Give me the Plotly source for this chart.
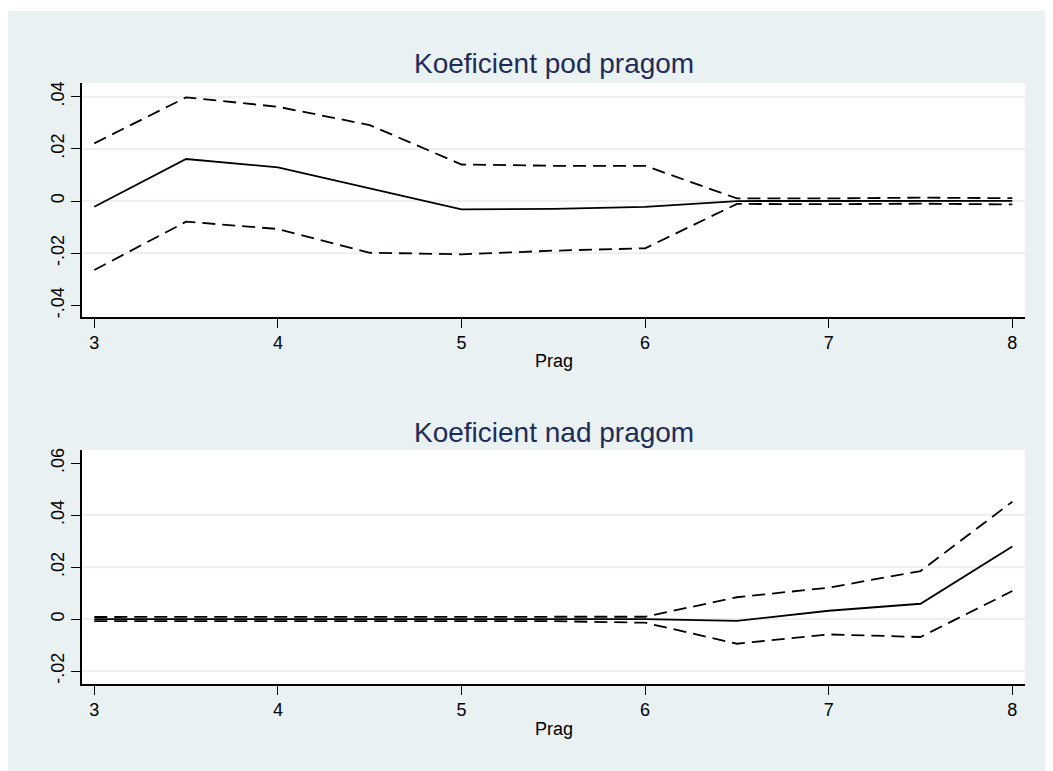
import plotly.graph_objects as go

# ---- data ----
prag = [3, 3.5, 4, 4.5, 5, 5.5, 6, 6.5, 7, 7.5, 8]

pod_coef  = [-0.0022, 0.0161, 0.0129, 0.0049, -0.0032, -0.0030, -0.0022, 0.0000, 0.0000, 0.0000, 0.0001]
pod_upper = [0.0221, 0.0397, 0.0361, 0.0291, 0.0140, 0.0135, 0.0135, 0.0010, 0.0010, 0.0013, 0.0011]
pod_lower = [-0.0264, -0.0079, -0.0107, -0.0198, -0.0204, -0.0190, -0.0181, -0.0011, -0.0012, -0.0010, -0.0013]

nad_coef  = [0.0000, 0.0000, 0.0000, 0.0000, 0.0000, 0.0000, 0.0000, -0.0007, 0.0032, 0.0059, 0.0279]
nad_upper = [0.0008, 0.0008, 0.0008, 0.0008, 0.0008, 0.0008, 0.0009, 0.0084, 0.0121, 0.0185, 0.0452]
nad_lower = [-0.0008, -0.0008, -0.0008, -0.0008, -0.0008, -0.0008, -0.0014, -0.0095, -0.0059, -0.0069, 0.0108]

x_ticks = [3, 4, 5, 6, 7, 8]
top_yticks = [-0.04, -0.02, 0, 0.02, 0.04]
top_ytext = ["-.04", "-.02", "0", ".02", ".04"]
top_grid = [-0.02, 0, 0.02, 0.04]
bot_yticks = [-0.02, 0, 0.02, 0.04, 0.06]
bot_ytext = ["-.02", "0", ".02", ".04", ".06"]
bot_grid = [-0.02, 0, 0.02, 0.04]

titles = ["Koeficient pod pragom", "Koeficient nad pragom"]
xlabel = "Prag"

# ---- styling ----
BG = "#EAF1F3"
GRID = "#EAF1F3"
TITLE_COL = "#1f2c58"
FONT = "Liberation Sans, Arial, sans-serif"
DASH = "13px,7px"
LW = 1.8

fig = go.Figure()

def add_panel(ycoef, yup, ylo, xa, ya):
    fig.add_trace(go.Scatter(x=prag, y=yup, mode="lines", xaxis=xa, yaxis=ya,
                             line=dict(color="black", width=LW, dash=DASH), showlegend=False))
    fig.add_trace(go.Scatter(x=prag, y=ycoef, mode="lines", xaxis=xa, yaxis=ya,
                             line=dict(color="black", width=LW), showlegend=False))
    fig.add_trace(go.Scatter(x=prag, y=ylo, mode="lines", xaxis=xa, yaxis=ya,
                             line=dict(color="black", width=LW, dash=DASH), showlegend=False))

add_panel(pod_coef, pod_upper, pod_lower, "x", "y")
add_panel(nad_coef, nad_upper, nad_lower, "x2", "y2")

# page has an 8px body margin; figure sized to fit the window
OFF = 8
W, H = 1053 - OFF, 771 - OFF
ml, mr, mt, mb = 82 - OFF, 28, 83 - OFF, 87
ph = H - mt - mb  # 601
BOTTOM_PAGE = 684  # page y of bottom plot axis

def py(page_pix):
    return (BOTTOM_PAGE - page_pix) / ph

xaxis_common = dict(
    range=[2.933, 8.069], tickvals=x_ticks, ticks="outside", ticklen=9, tickwidth=1.2,
    tickcolor="black", showline=True, linecolor="black", linewidth=1.5, showgrid=False,
    zeroline=False, tickfont=dict(family=FONT, size=18, color="black"),
)
yaxis_common = dict(
    ticks="outside", ticklen=9, tickwidth=1.2, tickcolor="black", showline=True,
    linecolor="black", linewidth=1.5, showgrid=False,
    zeroline=False, tickangle=-90, tickfont=dict(family=FONT, size=18, color="black"),
)

fig.update_layout(
    width=W, height=H,
    margin=dict(l=ml, r=mr, t=mt, b=mb),
    paper_bgcolor=BG, plot_bgcolor="white",
    font=dict(family=FONT, color="black"),
    xaxis=dict(domain=[0, 1], anchor="y", **xaxis_common),
    yaxis=dict(domain=[py(317), 1], anchor="x", range=[-0.0444, 0.0452],
               tickvals=top_yticks, ticktext=top_ytext,
               minor=dict(tickvals=top_grid, showgrid=True, gridcolor=GRID, gridwidth=2, ticks=""),
               **yaxis_common),
    xaxis2=dict(domain=[0, 1], anchor="y2", **xaxis_common),
    yaxis2=dict(domain=[0, py(450)], anchor="x2", range=[-0.025, 0.0651],
                tickvals=bot_yticks, ticktext=bot_ytext,
                minor=dict(tickvals=bot_grid, showgrid=True, gridcolor=GRID, gridwidth=2, ticks=""),
                **yaxis_common),
    shapes=[dict(type="rect", xref="paper", yref="paper", layer="below",
                 x0=-0.2, x1=1.2, y0=py(11), y1=py(0),
                 fillcolor="white", line=dict(width=0))],
    annotations=[
        dict(text=titles[0], xref="paper", yref="paper", x=0.5, y=py(63),
             xanchor="center", yanchor="middle", showarrow=False,
             font=dict(family=FONT, size=28, color=TITLE_COL)),
        dict(text=titles[1], xref="paper", yref="paper", x=0.5, y=py(433),
             xanchor="center", yanchor="middle", showarrow=False,
             font=dict(family=FONT, size=28, color=TITLE_COL)),
        dict(text=xlabel, xref="paper", yref="paper", x=0.5, y=py(361),
             xanchor="center", yanchor="middle", showarrow=False,
             font=dict(family=FONT, size=18, color="black")),
        dict(text=xlabel, xref="paper", yref="paper", x=0.5, y=py(729),
             xanchor="center", yanchor="middle", showarrow=False,
             font=dict(family=FONT, size=18, color="black")),
    ],
)

fig.write_html("out.html")
